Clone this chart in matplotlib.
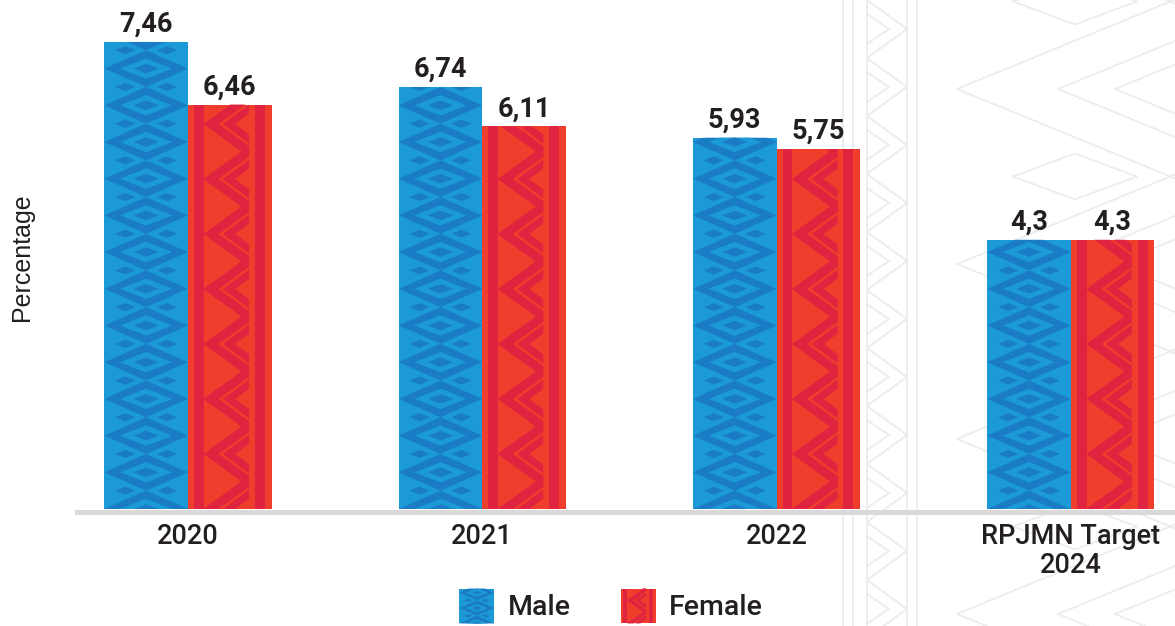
import numpy as np
import matplotlib
matplotlib.use('Agg')
import matplotlib.pyplot as plt
from matplotlib.collections import PolyCollection
from matplotlib.path import Path
from matplotlib.transforms import Affine2D, Bbox
from matplotlib.legend_handler import HandlerBase
from matplotlib.patches import Rectangle

categories = ['2020', '2021', '2022', 'RPJMN Target\n2024']
male = [7.46, 6.74, 5.93, 4.3]
female = [6.46, 6.11, 5.75, 4.3]
series_names = ['Male', 'Female']

BLUE, BLUE_DARK = '#1b9ad7', '#1a7cc4'
RED, RED_DARK = '#ef3e2c', '#e0243f'
INK = '#231f20'
BG_LINE = '#ececec'

plt.rcParams['font.family'] = ['Roboto', 'DejaVu Sans']


def diamond(cx, cy, hw, hh):
    return [(cx - hw, cy), (cx, cy + hh), (cx + hw, cy), (cx, cy - hh)]


def chevron(xv, xr, yv, H, t):
    # "<" shape with tip at xv, arms reaching xr, vertical thickness t
    m = H / (xr - xv)
    e = (t / 2) / m
    return [(xr, yv + H + t / 2), (xv - e, yv), (xr, yv - H - t / 2),
            (xr, yv - H + t / 2), (xv + e, yv), (xr, yv + H - t / 2)]


def clip(polys, cols, w, h):
    box = Bbox([[0, 0], [w, h]])
    out, oc = [], []
    for p, c in zip(polys, cols):
        p = np.asarray(p, float)
        path = Path(np.vstack([p, p[:1]]), closed=True).clip_to_bbox(box)
        v = path.vertices
        if len(v) >= 3:
            out.append(v)
            oc.append(c)
    return out, oc


def blue_pattern(w, h, s=1.0):
    P = 36.7 * s
    polys, cols = [], []
    for k in range(-1, int(h / P) + 2):
        yc = k * P
        polys += [diamond(w / 2, yc, w / 2, P / 2),
                  diamond(w / 2, yc, 0.31 * w, 0.28 * P),
                  diamond(w / 2, yc, 0.15 * w, 0.13 * P)]
        cols += [BLUE_DARK, BLUE, BLUE_DARK]
        for fx in (0.25, 0.75):
            polys.append(diamond(fx * w, yc + P / 2, 0.12 * w, 0.11 * P))
            cols.append(BLUE_DARK)
    return clip(polys, cols, w, h)


def red_pattern(w, h, s=1.0):
    P = 55 * s
    polys = [[(0.072 * w, 0), (0.191 * w, 0), (0.191 * w, h), (0.072 * w, h)],
             [(0.80 * w, 0), (0.92 * w, 0), (0.92 * w, h), (0.80 * w, h)]]
    for k in range(-1, int(h / P) + 2):
        yc = k * P
        polys.append(chevron(0.275 * w, 0.73 * w, yc, P / 2, 11 * s))
        polys.append(chevron(0.49 * w, 0.73 * w, yc, 0.27 * P, 9 * s))
    return clip(polys, [RED_DARK] * len(polys), w, h)


fig = plt.figure(figsize=(11.75, 6.26), dpi=100)

# decorative background
bg = fig.add_axes([0, 0, 1, 1], zorder=0)
bg.set_xlim(0, 1175)
bg.set_ylim(626, 0)
bg.axis('off')
for x in (843, 853, 867, 907, 917):
    bg.plot([x, x], [0, 626], color=BG_LINE, lw=1.3)
zy = np.arange(-58, 700, 29)
zx = [867 if i % 2 == 0 else 907 for i in range(len(zy))]
bg.plot(zx, zy, color=BG_LINE, lw=1.3)
for yc in zy[1::2]:
    bg.plot([867, 889, 867], [yc - 15, yc, yc + 15], color=BG_LINE, lw=1.3)
for k in range(-1, 5):
    yc = 89 + 175 * k
    for xv in (957, 1058, 1115):
        dy = 0.41 * (1175 - xv)
        bg.plot([1175, xv, 1175], [yc - dy, yc, yc + dy], color=BG_LINE, lw=1.3)
    d = np.array(diamond(1075, yc + 87.5, 62, 23) + [(1013, yc + 87.5)])
    bg.plot(d[:, 0], d[:, 1], color=BG_LINE, lw=1.3)

ax = fig.add_axes([77 / 1175, 117 / 626, 1098 / 1175, 509 / 626], zorder=1)
ax.patch.set_alpha(0)
ax.set_xlim(-0.377, 3.354)
ax.set_ylim(0, 8.13)

x = np.arange(len(categories))
bw = 0.284
bars_m = ax.bar(x - bw / 2, male, bw, color=BLUE, zorder=2)
bars_f = ax.bar(x + bw / 2, female, bw, color=RED, zorder=2)

# pattern overlays on every bar
ppx, ppy = np.diff(ax.transData.transform([[0, 0], [1, 1]]), axis=0)[0]
for bars, maker in ((bars_m, blue_pattern), (bars_f, red_pattern)):
    for r in bars:
        w, h = r.get_width() * ppx, r.get_height() * ppy
        polys, cols = maker(w, h)
        tr = Affine2D().scale(1 / ppx, 1 / ppy).translate(r.get_x(), r.get_y()) + ax.transData
        pc = PolyCollection(polys, facecolors=cols, edgecolors='none',
                            linewidths=0, transform=tr, zorder=2.1)
        ax.add_collection(pc, autolim=False)

for bars, vals in ((bars_m, male), (bars_f, female)):
    ax.bar_label(bars, labels=[str(v).replace('.', ',') for v in vals],
                 padding=3, fontsize=19.5, fontweight='bold', color=INK)

ax.axhline(-2.5 / ppy, color='#d9d9d9', lw=3.6, zorder=1, clip_on=False)

ax.set_xticks(x, categories, fontweight='medium', linespacing=1.1)
ax.tick_params(axis='x', length=0, pad=10, labelsize=19.5, labelcolor=INK)
ax.set_yticks([])
for sp in ax.spines.values():
    sp.set_visible(False)

fig.text(22 / 1175, 1 - 257 / 626, 'Percentage', rotation=90, ha='center',
         va='center', fontsize=18, color=INK, family=['Liberation Sans'])


class PatternHandler(HandlerBase):
    def __init__(self, maker, base):
        super().__init__()
        self.maker = maker
        self.base = base

    def create_artists(self, legend, orig_handle, xdescent, ydescent,
                       width, height, fontsize, trans):
        k = fig.dpi / 72
        w, h = width * k, height * k
        tr = Affine2D().scale(1 / k).translate(-xdescent, -ydescent) + trans
        back = Rectangle((0, 0), w, h, facecolor=self.base, edgecolor='none', transform=tr)
        polys, cols = self.maker(w, h, 0.42)
        pc = PolyCollection(polys, facecolors=cols, edgecolors='none',
                            linewidths=0, transform=tr)
        return [back, pc]


h_m = Rectangle((0, 0), 1, 1)
h_f = Rectangle((0, 0), 1, 1)
fig.legend([h_m, h_f], series_names, loc='center', bbox_to_anchor=(611 / 1175, 1 - 606 / 626),
           ncol=2, frameon=False, handlelength=1.23, handleheight=1.51,
           handletextpad=0.46, columnspacing=1.76, borderpad=0,
           prop={'size': 20.5, 'weight': 'medium'},
           handler_map={h_m: PatternHandler(blue_pattern, BLUE),
                        h_f: PatternHandler(red_pattern, RED)})
for t in fig.legends[0].get_texts():
    t.set_color(INK)

fig.savefig('out.png', dpi=100)
